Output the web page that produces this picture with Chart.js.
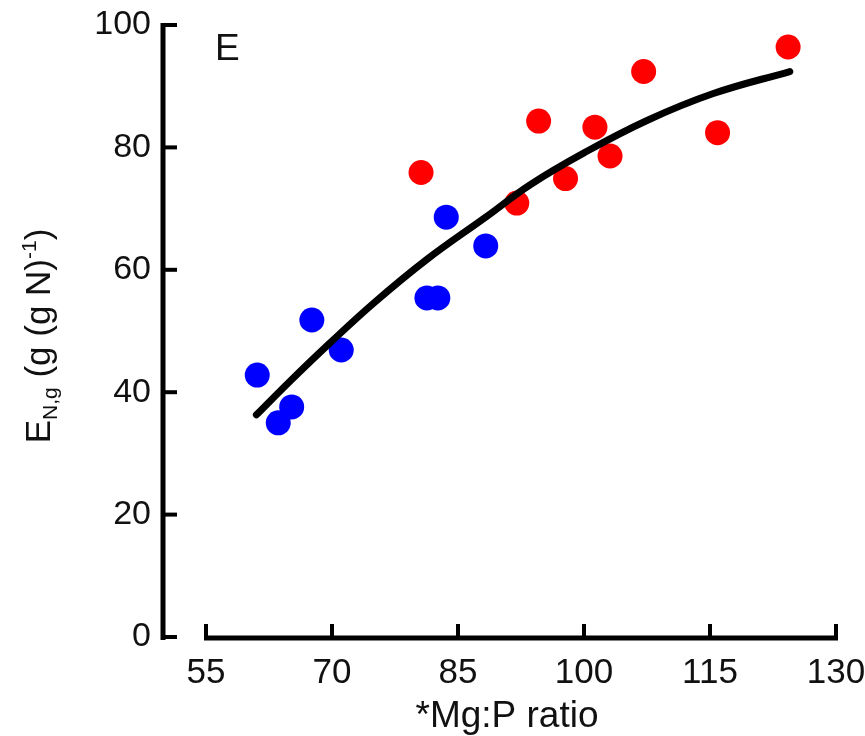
<!DOCTYPE html>
<html>
<head>
<meta charset="utf-8">
<script src="https://cdn.jsdelivr.net/npm/chart.js@4/dist/chart.umd.min.js"></script>
<style>
  body { margin: 0; background: #fff; }
  #chart { display: block; }
</style>
</head>
<body>
<canvas id="chart" width="865" height="736"></canvas>
<script>
// values
const blueX = [61.1, 63.6, 65.2, 67.6, 71.1, 81.3, 82.6, 83.6, 88.3]
const blueY = [42.8, 35.0, 37.6, 51.8, 46.9, 55.4, 55.4, 68.6, 63.9]

const redX = [80.6, 92.0, 94.6, 97.8, 101.3, 103.1, 107.1, 115.9, 124.3]
const redY = [75.9, 70.9, 84.3, 74.9, 83.3, 78.6, 92.4, 82.4, 96.4]

// fitted curve
const curveX = [61.0, 65.0, 69.8, 75.0, 81.3, 88.3, 93.6, 100.0, 107.5, 115.4, 124.5]
const curveY = [36.3, 41.8, 48.1, 54.6, 61.7, 68.6, 73.9, 79.1, 84.4, 88.8, 92.4]

const xTicks = [55, 70, 85, 100, 115, 130]
const yTicks = [0, 20, 40, 60, 80, 100]

const FONT = "'Liberation Sans', Arial, sans-serif"

function toPoints(xs, ys) {
  return xs.map((x, i) => ({ x: x, y: ys[i] }))
}

// axes in the offset style of the figure + titles and panel letter
const axesPlugin = {
  id: 'axesPlugin',
  afterDraw(chart) {
    const ctx = chart.ctx
    const xs = chart.scales.x
    const ys = chart.scales.y
    const left = chart.chartArea.left
    const y0 = ys.getPixelForValue(0)

    ctx.save()
    ctx.strokeStyle = '#000'
    ctx.lineCap = 'butt'

    // y axis
    ctx.lineWidth = 5
    ctx.beginPath()
    ctx.moveTo(left, ys.getPixelForValue(100) - 2)
    ctx.lineTo(left, y0 + 3)
    ctx.stroke()
    ctx.lineWidth = 4
    yTicks.forEach((v) => {
      const py = ys.getPixelForValue(v)
      ctx.beginPath()
      ctx.moveTo(left, py)
      ctx.lineTo(left + 14, py)
      ctx.stroke()
    })

    // x axis
    const xa = y0 + 1
    ctx.lineWidth = 5
    ctx.beginPath()
    ctx.moveTo(xs.getPixelForValue(55) - 2, xa)
    ctx.lineTo(xs.getPixelForValue(130) + 2, xa)
    ctx.stroke()
    ctx.lineWidth = 4
    xTicks.forEach((v) => {
      const px = xs.getPixelForValue(v)
      ctx.beginPath()
      ctx.moveTo(px, xa)
      ctx.lineTo(px, xa - 14)
      ctx.stroke()
    })

    ctx.fillStyle = '#111'

    // panel letter
    ctx.font = `37px ${FONT}`
    ctx.textAlign = 'left'
    ctx.textBaseline = 'alphabetic'
    ctx.fillText('E', 215, 60)

    // x title
    ctx.textAlign = 'center'
    ctx.fillText('*Mg:P ratio', 507, 727)

    // y title with sub/superscript, rotated
    const parts = [
      { t: 'E', size: 35, dy: 0 },
      { t: 'N,g', size: 21, dy: 7 },
      { t: ' (g (g N)', size: 35, dy: 0 },
      { t: '-1', size: 21, dy: -14 },
      { t: ')', size: 35, dy: 0 },
    ]
    let total = 0
    parts.forEach((p) => {
      ctx.font = `${p.size}px ${FONT}`
      p.w = ctx.measureText(p.t).width
      total += p.w
    })
    ctx.translate(50, 336)
    ctx.rotate(-Math.PI / 2)
    ctx.textAlign = 'left'
    let cx = -total / 2
    parts.forEach((p) => {
      ctx.font = `${p.size}px ${FONT}`
      ctx.fillText(p.t, cx, p.dy)
      cx += p.w
    })
    ctx.restore()
  },
}

new Chart(document.getElementById('chart'), {
  type: 'scatter',
  data: {
    datasets: [
      {
        label: 'fit',
        data: toPoints(curveX, curveY),
        showLine: true,
        borderColor: '#000',
        borderWidth: 7,
        borderCapStyle: 'round',
        tension: 0.4,
        pointRadius: 0,
        fill: false,
      },
      {
        label: 'red',
        data: toPoints(redX, redY),
        backgroundColor: '#ff0000',
        borderWidth: 0,
        pointRadius: 12.5,
      },
      {
        label: 'blue',
        data: toPoints(blueX, blueY),
        backgroundColor: '#0000ff',
        borderWidth: 0,
        pointRadius: 12.5,
      },
    ],
  },
  options: {
    responsive: false,
    animation: false,
    devicePixelRatio: 1,
    layout: { padding: { left: 0, right: 29, top: 25, bottom: 0 } },
    plugins: {
      legend: { display: false },
      tooltip: { enabled: false },
    },
    scales: {
      x: {
        type: 'linear',
        min: 49.88,
        max: 130,
        afterBuildTicks: (scale) => {
          scale.ticks = xTicks.map((v) => ({ value: v }))
        },
        afterFit: (scale) => {
          scale.height = 99
          scale.paddingLeft = 0
          scale.paddingRight = 0
        },
        grid: { display: false, drawTicks: false },
        border: { display: false },
        ticks: {
          color: '#111',
          padding: 15,
          maxRotation: 0,
          autoSkip: false,
          font: { family: FONT, size: 35 },
        },
      },
      y: {
        type: 'linear',
        min: 0,
        max: 100,
        afterBuildTicks: (scale) => {
          scale.ticks = yTicks.map((v) => ({ value: v }))
        },
        afterFit: (scale) => {
          scale.width = 163
          scale.paddingTop = 0
          scale.paddingBottom = 0
        },
        grid: { display: false, drawTicks: false },
        border: { display: false },
        ticks: {
          color: '#111',
          padding: 12,
          font: { family: FONT, size: 34 },
        },
      },
    },
  },
  plugins: [axesPlugin],
})
</script>
</body>
</html>
